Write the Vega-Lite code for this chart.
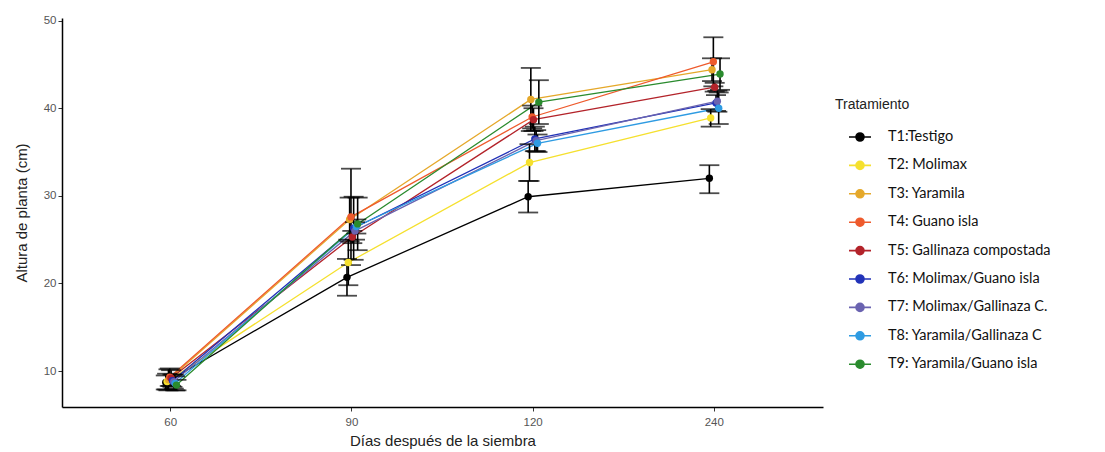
{
  "$schema": "https://vega.github.io/schema/vega-lite/v6.json",
  "width": 761,
  "height": 389,
  "autosize": "none",
  "padding": {"left": 62, "top": 18, "right": 282, "bottom": 45},
  "background": "white",
  "config": {
    "view": {"stroke": null},
    "font": "Liberation Sans",
    "axis": {"grid": false, "domainColor": "black", "domainWidth": 1.5, "tickColor": "#333", "tickSize": 4, "labelColor": "#555", "labelFontSize": 11.5, "titleFontSize": 15, "titleFontWeight": "normal", "titleColor": "#222", "labelFont": "Liberation Sans", "titleFont": "Liberation Sans"},
    "axisX": {"domainColor": "black", "domainWidth": 1.5, "tickColor": "#333"}
  },
  "data": {"values": [
    {"tratamiento": "T1:Testigo", "dia": "60", "altura": 8.7, "lo": 7.9, "hi": 9.5},
    {"tratamiento": "T1:Testigo", "dia": "90", "altura": 20.7, "lo": 18.6, "hi": 22.8},
    {"tratamiento": "T1:Testigo", "dia": "120", "altura": 29.9, "lo": 28.1, "hi": 31.7},
    {"tratamiento": "T1:Testigo", "dia": "240", "altura": 32.0, "lo": 30.3, "hi": 33.5},
    {"tratamiento": "T2: Molimax", "dia": "60", "altura": 8.8, "lo": 7.9, "hi": 9.7},
    {"tratamiento": "T2: Molimax", "dia": "90", "altura": 22.4, "lo": 19.8, "hi": 25.0},
    {"tratamiento": "T2: Molimax", "dia": "120", "altura": 33.8, "lo": 31.7, "hi": 35.9},
    {"tratamiento": "T2: Molimax", "dia": "240", "altura": 38.9, "lo": 37.9, "hi": 39.9},
    {"tratamiento": "T3: Yaramila", "dia": "60", "altura": 9.0, "lo": 7.8, "hi": 10.2},
    {"tratamiento": "T3: Yaramila", "dia": "90", "altura": 27.3, "lo": 24.8, "hi": 29.8},
    {"tratamiento": "T3: Yaramila", "dia": "120", "altura": 41.0, "lo": 37.4, "hi": 44.6},
    {"tratamiento": "T3: Yaramila", "dia": "240", "altura": 44.4, "lo": 43.1, "hi": 45.7},
    {"tratamiento": "T4: Guano isla", "dia": "60", "altura": 9.3, "lo": 8.3, "hi": 10.3},
    {"tratamiento": "T4: Guano isla", "dia": "90", "altura": 27.6, "lo": 22.1, "hi": 33.1},
    {"tratamiento": "T4: Guano isla", "dia": "120", "altura": 39.0, "lo": 37.7, "hi": 40.3},
    {"tratamiento": "T4: Guano isla", "dia": "240", "altura": 45.3, "lo": 42.5, "hi": 48.1},
    {"tratamiento": "T5: Gallinaza compostada", "dia": "60", "altura": 9.2, "lo": 8.3, "hi": 10.1},
    {"tratamiento": "T5: Gallinaza compostada", "dia": "90", "altura": 25.3, "lo": 24.6, "hi": 26.0},
    {"tratamiento": "T5: Gallinaza compostada", "dia": "120", "altura": 38.7, "lo": 37.4, "hi": 40.0},
    {"tratamiento": "T5: Gallinaza compostada", "dia": "240", "altura": 42.4, "lo": 41.9, "hi": 42.9},
    {"tratamiento": "T6: Molimax/Guano isla", "dia": "60", "altura": 8.9, "lo": 8.2, "hi": 9.6},
    {"tratamiento": "T6: Molimax/Guano isla", "dia": "90", "altura": 26.3, "lo": 22.7, "hi": 29.9},
    {"tratamiento": "T6: Molimax/Guano isla", "dia": "120", "altura": 36.5, "lo": 35.1, "hi": 37.9},
    {"tratamiento": "T6: Molimax/Guano isla", "dia": "240", "altura": 40.6, "lo": 39.7, "hi": 41.5},
    {"tratamiento": "T7: Molimax/Gallinaza C.", "dia": "60", "altura": 8.8, "lo": 8.0, "hi": 9.6},
    {"tratamiento": "T7: Molimax/Gallinaza C.", "dia": "90", "altura": 26.0, "lo": 25.0, "hi": 27.0},
    {"tratamiento": "T7: Molimax/Gallinaza C.", "dia": "120", "altura": 36.3, "lo": 35.1, "hi": 37.5},
    {"tratamiento": "T7: Molimax/Gallinaza C.", "dia": "240", "altura": 40.8, "lo": 39.6, "hi": 42.0},
    {"tratamiento": "T8: Yaramila/Gallinaza C", "dia": "60", "altura": 8.6, "lo": 7.8, "hi": 9.4},
    {"tratamiento": "T8: Yaramila/Gallinaza C", "dia": "90", "altura": 26.5, "lo": 25.7, "hi": 27.3},
    {"tratamiento": "T8: Yaramila/Gallinaza C", "dia": "120", "altura": 36.0, "lo": 35.0, "hi": 37.0},
    {"tratamiento": "T8: Yaramila/Gallinaza C", "dia": "240", "altura": 40.0, "lo": 38.2, "hi": 41.8},
    {"tratamiento": "T9: Yaramila/Guano isla", "dia": "60", "altura": 8.4, "lo": 7.8, "hi": 9.0},
    {"tratamiento": "T9: Yaramila/Guano isla", "dia": "90", "altura": 26.8, "lo": 23.8, "hi": 29.8},
    {"tratamiento": "T9: Yaramila/Guano isla", "dia": "120", "altura": 40.7, "lo": 38.2, "hi": 43.2},
    {"tratamiento": "T9: Yaramila/Guano isla", "dia": "240", "altura": 43.9, "lo": 42.1, "hi": 45.7}
  ]},
  "encoding": {
    "x": {"field": "dia", "type": "ordinal", "sort": ["60", "90", "120", "240"],
      "scale": {"type": "band", "paddingInner": 0, "paddingOuter": 0.1},
      "axis": {"title": "Días después de la siembra", "labelAngle": 0, "titlePadding": 6, "labelPadding": 5, "domainColor": "black", "domainWidth": 1.5}},
    "xOffset": {"field": "tratamiento", "type": "nominal", "scale": {"range": [85, 97]},
      "sort": ["T1:Testigo", "T2: Molimax", "T3: Yaramila", "T4: Guano isla", "T5: Gallinaza compostada", "T6: Molimax/Guano isla", "T7: Molimax/Gallinaza C.", "T8: Yaramila/Gallinaza C", "T9: Yaramila/Guano isla"]}
  },
  "layer": [
    {
      "mark": {"type": "line", "strokeWidth": 1.3},
      "encoding": {
        "y": {"field": "altura", "type": "quantitative",
          "scale": {"domain": [5.9, 50.3], "nice": false, "zero": false},
          "axis": {"title": "Altura de planta (cm)", "values": [10, 20, 30, 40, 50], "titlePadding": 14}},
        "color": {"field": "tratamiento", "type": "nominal",
          "sort": ["T1:Testigo", "T2: Molimax", "T3: Yaramila", "T4: Guano isla", "T5: Gallinaza compostada", "T6: Molimax/Guano isla", "T7: Molimax/Gallinaza C.", "T8: Yaramila/Gallinaza C", "T9: Yaramila/Guano isla"],
          "scale": {"range": ["#000000", "#F5E02E", "#E5A82A", "#EE5A2C", "#B3232A", "#2132B8", "#6A63B0", "#2E9BE2", "#2A8B2E"]},
          "legend": {
            "orient": "none", "legendX": 773, "legendY": 80,
            "title": "Tratamiento", "titleFont": "Liberation Sans", "titleFontSize": 14, "titleFontWeight": "normal", "titleColor": "#222", "titlePadding": 14,
            "symbolType": "M0.3,0L2.5,0M1.0,0A0.4,0.4 0 1,0 1.8,0A0.4,0.4 0 1,0 1.0,0Z",
            "symbolSize": 400, "symbolStrokeWidth": 1.6,
            "labelFont": "Lato", "labelFontSize": 14.5, "labelColor": "#111", "labelOffset": 31, "rowPadding": 9.4, "labelLimit": 300,
            "encode": {"symbols": {"update": {"fill": {"scale": "color", "field": "value"}, "stroke": {"scale": "color", "field": "value"}}}}
          }}
      }
    },
    {
      "mark": {"type": "rule", "color": "black", "strokeWidth": 1.6},
      "encoding": {"y": {"field": "lo", "type": "quantitative"}, "y2": {"field": "hi"}}
    },
    {
      "mark": {"type": "tick", "color": "black", "size": 20, "thickness": 1.8},
      "encoding": {"y": {"field": "lo", "type": "quantitative"}}
    },
    {
      "mark": {"type": "tick", "color": "black", "size": 20, "thickness": 1.8},
      "encoding": {"y": {"field": "hi", "type": "quantitative"}}
    },
    {
      "mark": {"type": "point", "filled": true, "size": 55, "opacity": 1},
      "encoding": {
        "y": {"field": "altura", "type": "quantitative"},
        "color": {"field": "tratamiento", "type": "nominal", "sort": ["T1:Testigo", "T2: Molimax", "T3: Yaramila", "T4: Guano isla", "T5: Gallinaza compostada", "T6: Molimax/Guano isla", "T7: Molimax/Gallinaza C.", "T8: Yaramila/Gallinaza C", "T9: Yaramila/Guano isla"]}
      }
    }
  ]
}
